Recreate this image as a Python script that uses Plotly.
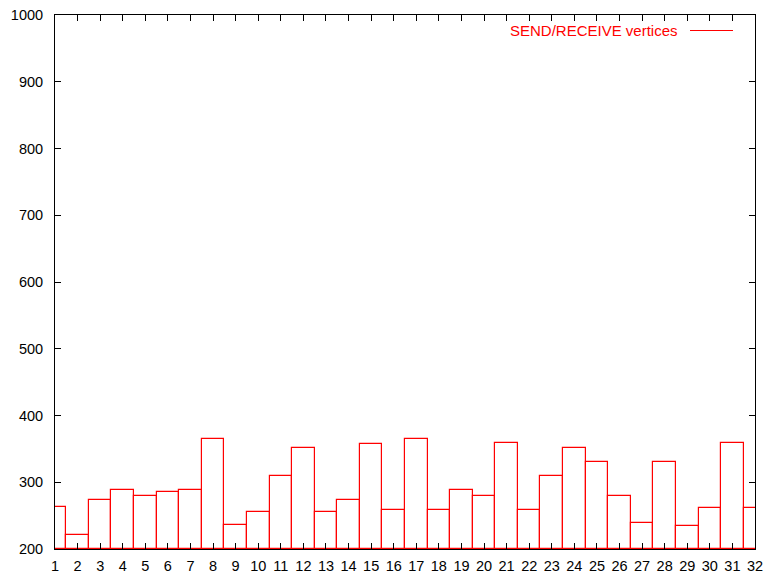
import plotly.graph_objects as go

# Number of SEND/RECEIVE vertices per partition
partitions = list(range(1, 33))
vertices = [263, 221, 274, 289, 280, 285, 288, 365, 236, 255, 310, 351,
            255, 274, 357, 258, 365, 259, 289, 280, 359, 259, 310, 351,
            330, 280, 239, 330, 234, 262, 359, 262]
series_name = "SEND/RECEIVE vertices"
y_floor = 200
y_ceiling = 1000

RED = "#ff0000"
FONT = "Liberation Sans, Arial, sans-serif"

fig = go.Figure()
fig.add_trace(go.Bar(
    x=partitions,
    y=[v - y_floor for v in vertices],
    base=y_floor,
    width=1,
    marker=dict(color="rgba(255,255,255,0)", line=dict(color=RED, width=1.2)),
    name=series_name,
    showlegend=False,
))

axis_common = dict(
    showline=True, linecolor="black", linewidth=1, mirror="allticks",
    ticks="inside", ticklen=6, tickcolor="black", tickwidth=1,
    showgrid=False, zeroline=False, automargin=False,
    tickfont=dict(family=FONT, size=14.5, color="black"),
)

fig.update_xaxes(range=[1, 32], tick0=1, dtick=1, ticklabelstandoff=4,
                 **axis_common)
fig.update_yaxes(range=[y_floor, y_ceiling], tick0=y_floor, dtick=100,
                 ticklabelstandoff=8, **axis_common)

# Key in the upper right: label followed by a line sample
key_y = (549 - 30.5) / 534
fig.add_annotation(
    xref="paper", yref="paper", x=(680 - 55) / 700, y=key_y,
    text=series_name, showarrow=False, xanchor="right", yanchor="middle",
    font=dict(family=FONT, size=15, color=RED),
)
fig.add_shape(
    type="line", xref="paper", yref="paper",
    x0=(690 - 55) / 700, x1=(733 - 55) / 700,
    y0=key_y, y1=key_y,
    line=dict(color=RED, width=1.2),
)

fig.update_layout(
    width=766, height=579,
    margin=dict(l=55, r=11, t=15, b=30),
    paper_bgcolor="white", plot_bgcolor="white",
    bargap=0,
)

fig.write_html("out.html")
